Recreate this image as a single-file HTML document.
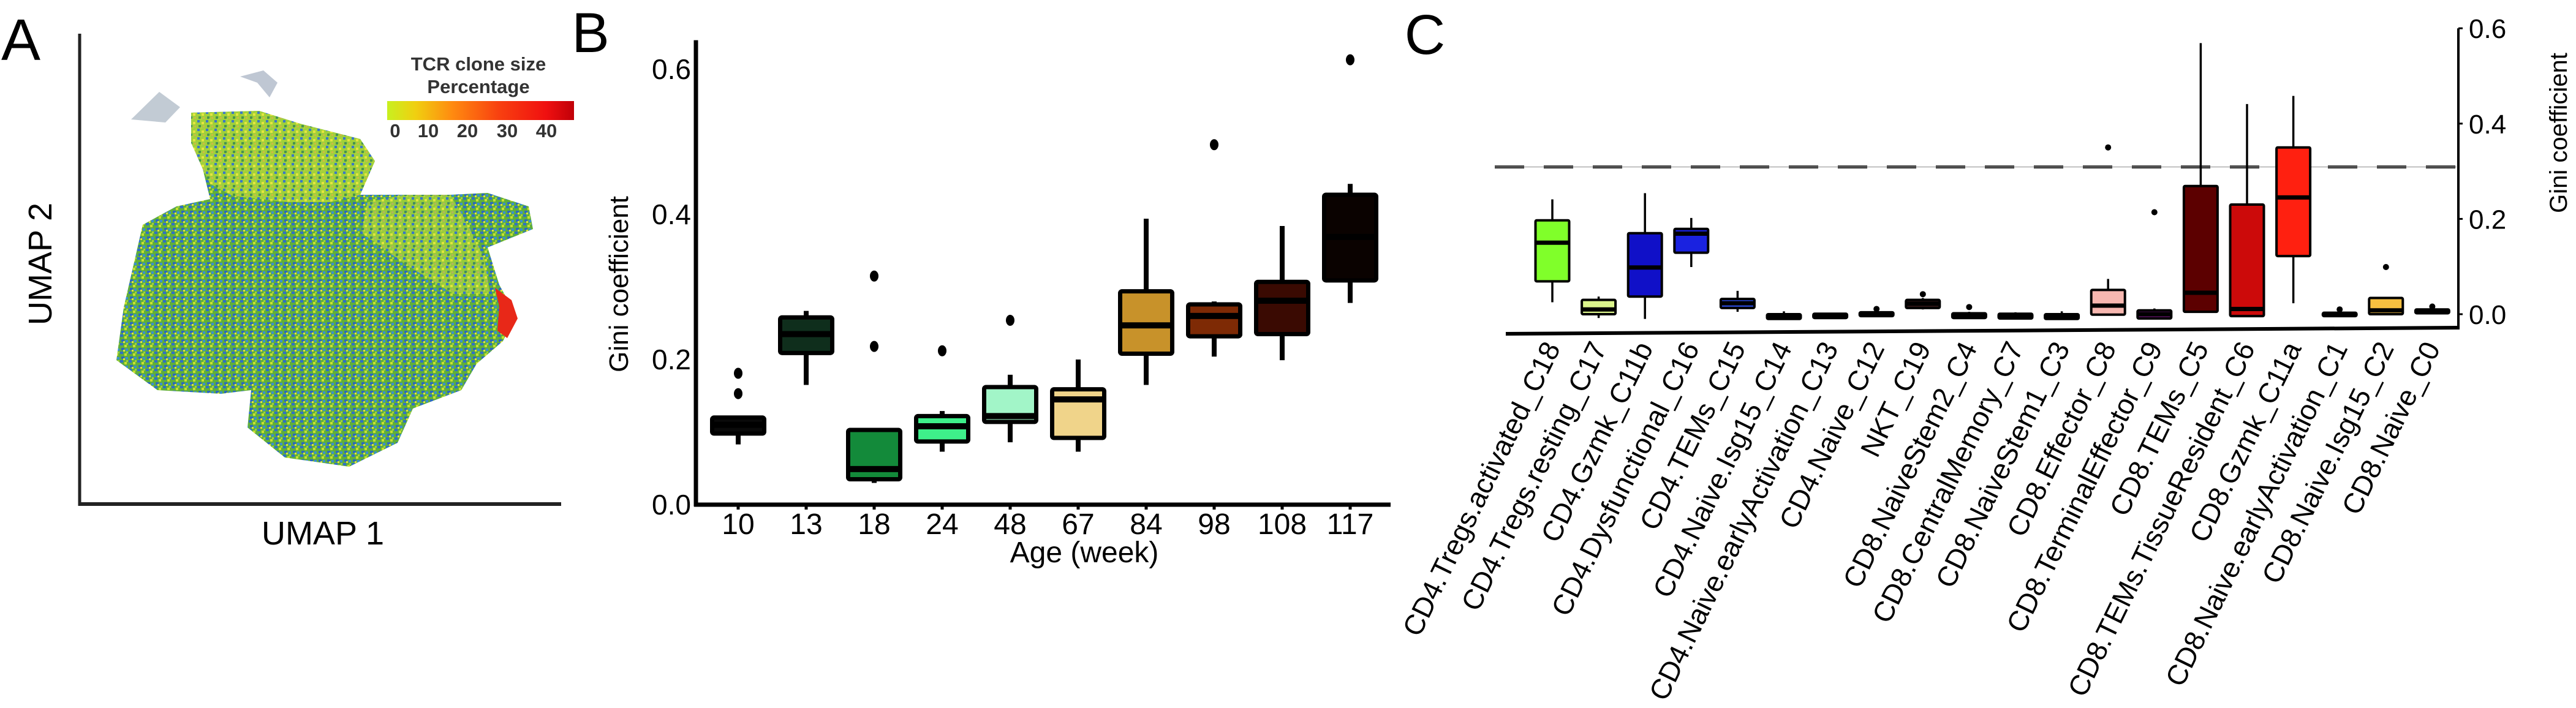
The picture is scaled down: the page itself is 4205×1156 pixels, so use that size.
<!DOCTYPE html>
<html><head><meta charset="utf-8">
<style>
html,body{margin:0;padding:0;background:#fff;}
svg{display:block;}
text{font-family:"Liberation Sans",sans-serif;}
.nar{font-family:"Liberation Sans Narrow","Liberation Sans",sans-serif;}
</style></head>
<body>
<svg id="fig" width="4205" height="1156" viewBox="0 0 4205 1156" xmlns="http://www.w3.org/2000/svg">
<defs>
<pattern id="umapPat" width="14" height="14" patternUnits="userSpaceOnUse">
<rect width="14" height="14" fill="#5fae3c"/>
<rect x="0" y="0" width="5" height="4" fill="#2f6fc8"/>
<rect x="7" y="3" width="4" height="4" fill="#c8e030"/>
<rect x="2" y="8" width="5" height="4" fill="#2a68c0"/>
<rect x="9" y="9" width="4" height="4" fill="#3a8fd0"/>
<rect x="10" y="0" width="3" height="3" fill="#9ed040"/>
<rect x="5" y="11" width="3" height="3" fill="#e0e040"/>
</pattern>
<pattern id="umapPatY" width="14" height="14" patternUnits="userSpaceOnUse">
<rect width="14" height="14" fill="#a8d43a"/>
<rect x="0" y="0" width="4" height="4" fill="#3a78c8"/>
<rect x="7" y="3" width="4" height="4" fill="#e8e640"/>
<rect x="2" y="8" width="4" height="4" fill="#4a9a40"/>
<rect x="9" y="9" width="3" height="3" fill="#e0c030"/>
</pattern>
<linearGradient id="cbar" x1="0" x2="1" y1="0" y2="0">
<stop offset="0" stop-color="#c8f020"/><stop offset="0.15" stop-color="#f0d010"/>
<stop offset="0.35" stop-color="#ff8a10"/><stop offset="0.6" stop-color="#f84010"/>
<stop offset="0.85" stop-color="#f01010"/><stop offset="1" stop-color="#c00008"/>
</linearGradient>
</defs>

<!-- Panel A -->
<g>
<text x="34" y="98" font-size="96" text-anchor="middle">A</text>
<line x1="130" y1="55" x2="130" y2="826" stroke="#222" stroke-width="5"/>
<line x1="128" y1="823" x2="916" y2="823" stroke="#222" stroke-width="6"/>
<text transform="translate(84,431) rotate(-90)" font-size="54" text-anchor="middle">UMAP 2</text>
<text x="527" y="889" font-size="54" text-anchor="middle">UMAP 1</text>
<g>
<path d="M312,184 L423,181 L490,202 L588,227 L612,263 L588,318 L661,318 L735,318 L796,315 L863,337 L870,374 L796,404 L815,465 L842,514 L821,557 L778,594 L753,637 L674,667 L649,723 L570,762 L465,747 L404,698 L410,637 L361,643 L257,637 L190,588 L202,502 L233,367 L288,337 L343,325 L331,276 L312,233 Z" fill="url(#umapPat)"/>
<path d="M312,184 L423,181 L490,202 L588,227 L612,263 L588,318 L540,330 L470,330 L380,320 L343,300 L331,276 L312,233 Z" fill="url(#umapPatY)" opacity="0.9"/>
<path d="M600,330 L661,318 L735,318 L760,360 L790,420 L800,480 L740,480 L660,430 L590,380 Z" fill="url(#umapPatY)" opacity="0.75"/>
<path d="M808,470 L835,490 L845,520 L828,552 L812,540 L815,500 Z" fill="#e82818"/>
<path d="M214,195 L260,150 L294,175 L270,200 Z" fill="#9aa8b8" opacity="0.6"/>
<path d="M392,125 L430,115 L453,135 L440,159 L420,135 Z" fill="#7f90a8" opacity="0.5"/>
</g>
<text x="781" y="115" font-size="31" font-weight="bold" class="nar" text-anchor="middle" fill="#333">TCR clone size</text>
<text x="781" y="152" font-size="31" font-weight="bold" class="nar" text-anchor="middle" fill="#333">Percentage</text>
<rect x="632" y="165" width="305" height="31" fill="url(#cbar)"/>
<g class="nar" font-size="31" font-weight="bold" fill="#333" text-anchor="middle">
<text x="645" y="224">0</text><text x="699" y="224">10</text><text x="763" y="224">20</text><text x="828" y="224">30</text><text x="892" y="224">40</text>
</g>
</g>

<!-- Panel B -->
<g id="panelB">
<text x="964" y="85" font-size="92" class="nar" text-anchor="middle">B</text>
<text transform="translate(1025,464) rotate(-90)" font-size="44" text-anchor="middle">Gini coefficient</text>
<text x="1770" y="918" font-size="48" class="nar" text-anchor="middle">Age (week)</text>
</g>

<!-- Panel C -->
<g id="panelC">
<text x="2326" y="88" font-size="92" class="nar" text-anchor="middle">C</text>
<text transform="translate(4190,217) rotate(-90)" font-size="40" text-anchor="middle">Gini coefficient</text>
</g>
</svg>

<script>
// ---- Panel B data ----
const bAges = ["10","13","18","24","48","67","84","98","108","117"];
const bQ1 = [0.098,0.209,0.035,0.087,0.114,0.092,0.208,0.232,0.235,0.309];
const bMed = [0.110,0.235,0.049,0.108,0.122,0.145,0.247,0.260,0.281,0.369];
const bQ3 = [0.120,0.258,0.103,0.122,0.162,0.159,0.294,0.276,0.307,0.427];
const bLo = [0.083,0.165,0.030,0.073,0.086,0.073,0.165,0.204,0.199,0.278];
const bHi = [0.120,0.267,0.103,0.129,0.179,0.200,0.394,0.280,0.384,0.442];
const bOut = [[0.153,0.181],[],[0.218,0.315],[0.212],[0.254],[],[],[0.496],[],[0.613]];
const bColors = ["#0a0a0a","#0f2e1c","#138a3a","#3ef08a","#a2f5c8","#f0d48a","#c8922a","#7e2a05","#3a0a02","#0a0200"];
const bTicks = [0.0,0.2,0.4,0.6];

// ---- Panel C data ----
const cCats = ["CD4.Tregs.activated_C18","CD4.Tregs.resting_C17","CD4.Gzmk_C11b","CD4.Dysfunctional_C16","CD4.TEMs_C15","CD4.Naive.Isg15_C14","CD4.Naive.earlyActivation_C13","CD4.Naive_C12","NKT_C19","CD8.NaiveStem2_C4","CD8.CentralMemory_C7","CD8.NaiveStem1_C3","CD8.Effector_C8","CD8.TerminalEffector_C9","CD8.TEMs_C5","CD8.TEMs.TissueResident_C6","CD8.Gzmk_C11a","CD8.Naive.earlyActivation_C1","CD8.Naive.Isg15_C2","CD8.Naive_C0"];
const cQ1 = [0.069,0.000,0.037,0.129,0.013,-0.010,-0.008,-0.004,0.013,-0.008,-0.009,-0.010,-0.001,-0.009,0.005,-0.004,0.122,-0.004,0.000,0.002];
const cMed = [0.150,0.010,0.098,0.169,0.023,-0.005,-0.004,0.000,0.022,-0.004,-0.004,-0.005,0.018,0.000,0.045,0.011,0.245,0.000,0.008,0.006];
const cQ3 = [0.197,0.030,0.170,0.179,0.032,0.000,0.001,0.004,0.030,0.002,0.001,0.000,0.051,0.008,0.269,0.230,0.350,0.003,0.034,0.010];
const cLo = [0.025,-0.008,-0.010,0.099,0.005,-0.010,-0.008,-0.004,0.010,-0.008,-0.009,-0.010,-0.001,-0.009,0.005,-0.004,0.023,-0.004,0.000,0.002];
const cHi = [0.241,0.037,0.254,0.202,0.049,0.006,0.003,0.008,0.034,0.005,0.004,0.006,0.074,0.012,0.569,0.441,0.458,0.007,0.034,0.014];
const cOut = [[],[],[],[],[],[],[],[0.011],[0.042],[0.015],[],[],[0.350],[0.214],[],[],[],[0.010],[0.099],[0.016]];
const cColors = ["#80ff2a","#dcf58c","#1010c8","#1a22e0","#2a4ad8","#303030","#303030","#303030","#3a1a1a","#303030","#303030","#303030","#f7b7b0","#5a1060","#5c0000","#cc0a0a","#ff2010","#303030","#f7c040","#303030"];
const cTicks = [0.0,0.2,0.4,0.6];
const cThreshold = 0.309;

const NS = "http://www.w3.org/2000/svg";
function mk(tag, attrs, parent){
  const e = document.createElementNS(NS, tag);
  for (const k in attrs) e.setAttribute(k, attrs[k]);
  parent.appendChild(e);
  return e;
}

// Panel B
(function(){
  const g = document.getElementById('panelB');
  const yB = v => 824 - v*1185;
  const xB = i => 1205 + i*111;
  const ax = mk('line',{x1:1136,y1:yB(0.64),x2:1136,y2:827,stroke:'#000','stroke-width':7},g);
  
  
  const axx = mk('line',{x1:1133,y1:824,x2:2270,y2:824,stroke:'#000','stroke-width':7},g);
  
  
  bTicks.forEach(t=>{
    const tx = mk('text',{x:1128,y:yB(t)+16,'font-size':46,'text-anchor':'end',class:'nar'},g);
    tx.textContent = t.toFixed(1);
    
    
  });
  bAges.forEach((a,i)=>{
    const x = xB(i), w = 85;
    const bg = mk('g',{},g);
    
    
    mk('line',{x1:x,y1:yB(bHi[i]),x2:x,y2:yB(bLo[i]),stroke:'#000','stroke-width':8},bg);
    mk('rect',{x:x-w/2,y:yB(bQ3[i]),width:w,height:Math.max(2,yB(bQ1[i])-yB(bQ3[i])),fill:bColors[i],stroke:'#000','stroke-width':7,rx:3},bg);
    mk('line',{x1:x-w/2,y1:yB(bMed[i]),x2:x+w/2,y2:yB(bMed[i]),stroke:'#000','stroke-width':10},bg);
    bOut[i].forEach(o=>{
      const c = mk('ellipse',{cx:x,cy:yB(o),rx:7,ry:9,fill:'#000'},bg);
      
      
    });
    mk('line',{x1:x,y1:824,x2:x,y2:832,stroke:'#000','stroke-width':5},bg);
    const tl = mk('text',{x:x,y:872,'font-size':48,'text-anchor':'middle',class:'nar'},g);
    tl.textContent = a;
    
    
  });
})();

// Panel C
(function(){
  const g = document.getElementById('panelC');
  const yC = v => 513 - v*778;
  const xC = i => 2534 + i*75.6;
  const ay = mk('line',{x1:4013,y1:yC(0.6),x2:4013,y2:536,stroke:'#000','stroke-width':4},g);
  
  
  const axx = mk('line',{x1:2458,y1:545,x2:4015,y2:535,stroke:'#000','stroke-width':6},g);
  
  
  const dl = mk('line',{x1:2440,y1:yC(cThreshold),x2:4010,y2:yC(cThreshold),stroke:'#333','stroke-width':5,'stroke-dasharray':'48 32'},g);
  
  
  mk('line',{x1:2440,y1:yC(cThreshold),x2:4010,y2:yC(cThreshold),stroke:'#888','stroke-width':1},g);
  cTicks.forEach(t=>{
    mk('line',{x1:4013,y1:yC(t),x2:4020,y2:yC(t),stroke:'#000','stroke-width':3},g);
    const tx = mk('text',{x:4030,y:yC(t)+16,'font-size':44,class:'nar'},g);
    tx.textContent = t.toFixed(1);
    
    
  });
  cCats.forEach((c,i)=>{
    const x = xC(i), w = 55;
    const bg = mk('g',{},g);
    
    
    mk('line',{x1:x,y1:yC(cHi[i]),x2:x,y2:yC(cLo[i]),stroke:'#000','stroke-width':3.5},bg);
    mk('rect',{x:x-w/2,y:yC(cQ3[i]),width:w,height:Math.max(4,yC(cQ1[i])-yC(cQ3[i])),fill:cColors[i],stroke:'#000','stroke-width':4,rx:2},bg);
    mk('line',{x1:x-w/2,y1:yC(cMed[i]),x2:x+w/2,y2:yC(cMed[i]),stroke:'#000','stroke-width':7},bg);
    cOut[i].forEach(o=>{
      const d = mk('circle',{cx:x,cy:yC(o),r:5,fill:'#000'},bg);
      
      
    });
    const tl = mk('text',{transform:'translate('+(x+14)+',568) rotate(-64)','font-size':46,'text-anchor':'end'},g);
    tl.textContent = c;
    
    
  });
})();
</script>
</body></html>
